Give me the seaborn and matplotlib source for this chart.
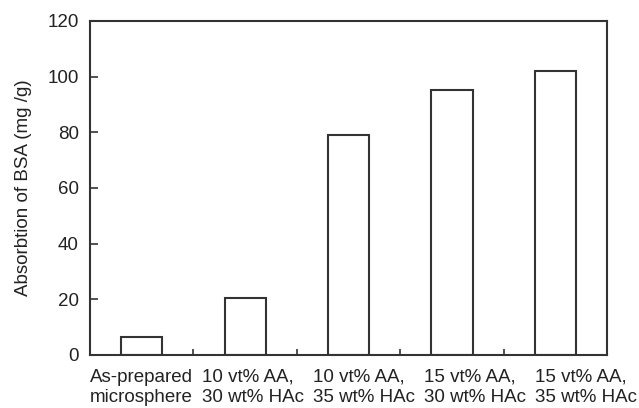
import matplotlib
matplotlib.use("Agg")
import matplotlib.pyplot as plt
import seaborn as sns
import pandas as pd
from matplotlib.ticker import FixedLocator

samples = [
    "As-prepared\nmicrosphere",
    "10 vt% AA,\n30 wt% HAc",
    "10 vt% AA,\n35 wt% HAc",
    "15 vt% AA,\n30 wt% HAc",
    "15 vt% AA,\n35 wt% HAc",
]
absorption = [6.6, 20.4, 79.0, 95.2, 102.0]

df = pd.DataFrame({"Sample": samples, "Absorption": absorption})

sns.set_style("white")
plt.rcParams["font.family"] = ["Liberation Sans", "DejaVu Sans"]
edge = "#333333"
txt = "#222222"

fig, ax = plt.subplots(figsize=(6.39, 4.08), dpi=100)
fig.subplots_adjust(left=0.141, right=0.950, top=0.949, bottom=0.130)

sns.barplot(data=df, x="Sample", y="Absorption", color="white",
            edgecolor=edge, linewidth=1.5, width=0.4, ax=ax)

ax.set_xlim(-0.5, 4.5)
ax.set_ylim(0, 120)
ax.set_yticks(range(0, 121, 20))
ax.set_xlabel("")
ax.set_ylabel("Absorbtion of BSA (mg /g)", fontsize=13.5, color=txt, labelpad=11)

for s in ax.spines.values():
    s.set_color(edge)
    s.set_linewidth(1.5)
    s.set_visible(True)

# labels in the original are spread slightly wider than the bars
ax.set_xticks([i * 1.074 for i in range(len(samples))], samples)

ax.tick_params(axis="y", left=True, direction="in", length=5.5, width=1.2,
               color=edge, labelsize=13.5, labelcolor=txt, pad=8)
ax.tick_params(axis="x", which="major", bottom=True, length=0, labelsize=13.5,
               labelcolor=txt, pad=10)
ax.xaxis.set_minor_locator(FixedLocator([0.5, 1.5, 2.5, 3.5]))
ax.tick_params(axis="x", which="minor", bottom=True, direction="in", length=4.5,
               width=1.2, color=edge)
for lbl in ax.get_xticklabels():
    lbl.set_linespacing(1.25)
    lbl.set_multialignment("left")

fig.savefig("out.png", dpi=100)
